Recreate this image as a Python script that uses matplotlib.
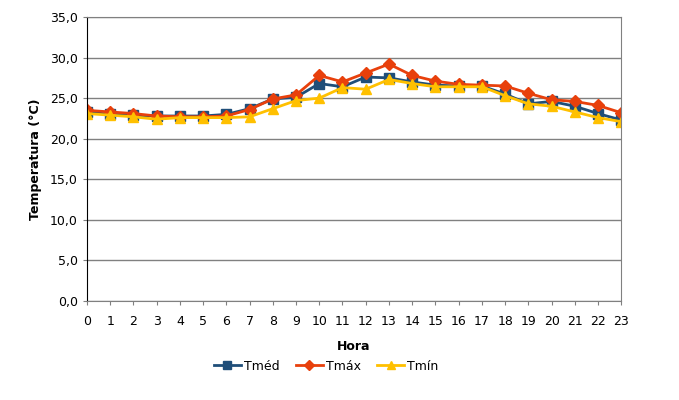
import matplotlib
matplotlib.use('Agg')
import matplotlib.pyplot as plt
from matplotlib.ticker import FuncFormatter

horas = list(range(24))
t_med = [23.3, 23.0, 22.9, 22.8, 22.8, 22.8, 23.0, 23.7, 24.9, 25.1, 26.8, 26.4,
         27.6, 27.5, 27.0, 26.6, 26.5, 26.5, 25.5, 24.3, 24.6, 24.0, 23.1, 22.3]
t_max = [23.5, 23.3, 23.1, 22.8, 22.7, 22.7, 22.8, 23.6, 24.9, 25.4, 27.8, 27.0,
         28.1, 29.2, 27.8, 27.1, 26.7, 26.6, 26.5, 25.6, 24.8, 24.6, 24.1, 23.2]
t_min = [23.1, 22.9, 22.7, 22.4, 22.6, 22.6, 22.6, 22.7, 23.7, 24.7, 25.0, 26.3,
         26.1, 27.3, 26.8, 26.4, 26.4, 26.4, 25.3, 24.3, 24.0, 23.3, 22.6, 22.1]

plt.rcParams['font.family'] = ['DejaVu Sans']

fig = plt.figure(figsize=(6.79, 4.0), dpi=100)
ax = fig.add_axes([0.128, 0.2475, 0.787, 0.71])

ax.plot(horas, t_med, color='#1F4E79', marker='s', markersize=6.5, lw=2, label='Tméd')
ax.plot(horas, t_max, color='#E8400C', marker='D', markersize=6, lw=2, label='Tmáx')
ax.plot(horas, t_min, color='#FFC000', marker='^', markersize=7, lw=2, label='Tmín')

ax.set_xlim(0, 23)
ax.set_ylim(0, 35)
ax.set_yticks([0, 5, 10, 15, 20, 25, 30, 35])
ax.yaxis.set_major_formatter(FuncFormatter(lambda v, p: f'{v:.1f}'.replace('.', ',')))
ax.set_xticks(horas)
ax.grid(axis='y', color='#808080', lw=1)
ax.set_axisbelow(True)
for s in ['top', 'right']:
    ax.spines[s].set_color('#808080')
ax.spines['left'].set_color('black')
ax.spines['bottom'].set_color('#808080')
ax.tick_params(axis='both', labelsize=9, length=3, color='#808080')
ax.tick_params(axis='x', pad=7)

ax.set_xlabel('Hora', fontsize=9, fontweight='bold', labelpad=9)
ax.set_ylabel('Temperatura (°C)', fontsize=9, fontweight='bold', labelpad=6)

fig.legend(loc='center', bbox_to_anchor=(0.48, 0.085), ncol=3, frameon=False,
           fontsize=9, handlelength=2.2, columnspacing=1.3, handletextpad=0.2,
           markerscale=0.8)

fig.savefig('out.png', dpi=100)
